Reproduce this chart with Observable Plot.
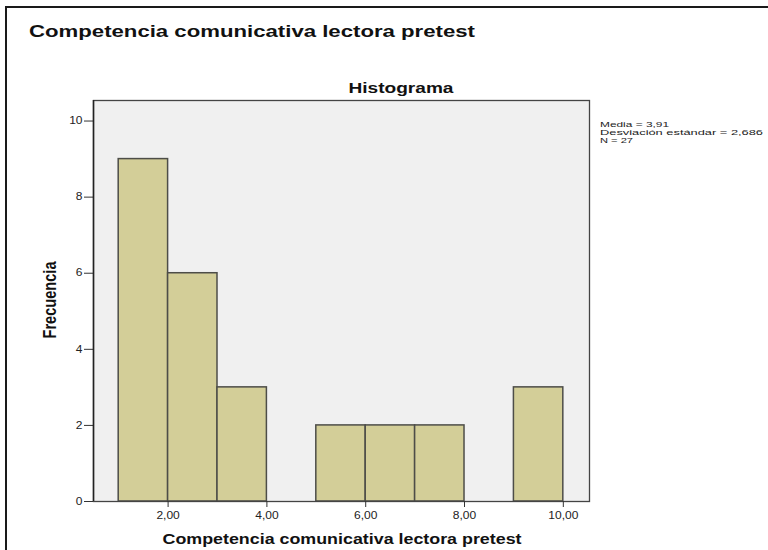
<!DOCTYPE html>
<html>
<head>
<meta charset="utf-8">
<script src="https://cdn.jsdelivr.net/npm/d3@7"></script>
<script src="https://cdn.jsdelivr.net/npm/@observablehq/plot@0.6"></script>
<style>
  html, body { margin: 0; padding: 0; background: #fff; }
  #chart { width: 768px; height: 550px; overflow: hidden; }
  svg { display: block; font-family: "Liberation Sans", Arial, sans-serif; }
</style>
</head>
<body>
<div id="chart"></div>
<script>
// Data
const binStart = [1, 2, 3, 5, 6, 7, 9];
const binEnd   = [2, 3, 4, 6, 7, 8, 10];
const counts   = [9, 6, 3, 2, 2, 2, 3];
const xTicks = [2, 4, 6, 8, 10];
const yTicks = [0, 2, 4, 6, 8, 10];
const chartTitle = "Competencia comunicativa lectora pretest";
const plotTitle = "Histograma";
const xLabel = "Competencia comunicativa lectora pretest";
const yLabel = "Frecuencia";
const statsLines = ["Media = 3,91", "Desviación estándar = 2,686", "N = 27"];

const bins = binStart.map((s, i) => ({start: s, end: binEnd[i], count: counts[i]}));

const plot = Plot.plot({
  width: 768,
  height: 550,
  marginLeft: 93,
  marginRight: 179,
  marginTop: 100,
  marginBottom: 49,
  style: {fontFamily: '"Liberation Sans", Arial, sans-serif', background: "transparent"},
  x: {domain: [0.49, 10.53]},
  y: {domain: [0, 10.54]},
  marks: [
    Plot.frame({fill: "#f0f0f0", stroke: "none"}),
    Plot.rectY(bins, {x1: "start", x2: "end", y: "count", fill: "#d3ce98", stroke: "#4d4d48", strokeWidth: 1.5, inset: 0}),
    Plot.frame({stroke: "#444", strokeWidth: 1.3}),
    Plot.axisX({ticks: xTicks, tickFormat: d => d.toFixed(2).replace(".", ","), tickSize: 6, tickPadding: 4, fontSize: 10, label: null, stroke: "#333", fill: "#222"}),
    Plot.axisY({ticks: yTicks, tickFormat: d => String(d), tickSize: 9, tickPadding: 2, fontSize: 10, label: null, stroke: "#333", fill: "#222"}),
    Plot.ruleX([0.49], {stroke: "#222", strokeWidth: 1.5})
  ]
});

document.getElementById("chart").appendChild(plot);
const svg = d3.select(plot);

// The reference is horizontally stretched: widen tick labels a little
svg.selectAll('g[aria-label="x-axis tick label"] text, g[aria-label="y-axis tick label"] text').each(function() {
  const len = this.getComputedTextLength();
  d3.select(this).attr("textLength", len * 1.2).attr("lengthAdjust", "spacingAndGlyphs");
});

// outer screenshot border (left and top)
svg.append("path")
  .attr("d", "M6,550V7H768")
  .attr("fill", "none")
  .attr("stroke", "#1a1a1a")
  .attr("stroke-width", 2);

function stretchedText(x, y, str, size, width, anchor) {
  return svg.append("text")
    .attr("x", x).attr("y", y)
    .attr("text-anchor", anchor)
    .attr("font-size", size).attr("font-weight", "bold")
    .attr("fill", "#111")
    .attr("textLength", width).attr("lengthAdjust", "spacingAndGlyphs")
    .text(str);
}

stretchedText(29, 37, chartTitle, 17, 446, "start");
stretchedText(401, 93, plotTitle, 15, 105, "middle");
stretchedText(342, 544, xLabel, 15, 359, "middle");

svg.append("text")
  .attr("transform", "translate(56,300) scale(1.27,1) rotate(-90)")
  .attr("text-anchor", "middle")
  .attr("font-size", 14).attr("font-weight", "bold")
  .attr("fill", "#111")
  .attr("textLength", 77).attr("lengthAdjust", "spacingAndGlyphs")
  .text(yLabel);

const statWidths = [69, 163, 33];
statsLines.forEach((s, i) => {
  svg.append("text")
    .attr("x", 600).attr("y", 127 + i * 8)
    .attr("text-anchor", "start")
    .attr("font-size", 8)
    .attr("fill", "#222")
    .attr("textLength", statWidths[i]).attr("lengthAdjust", "spacingAndGlyphs")
    .text(s);
});
</script>
</body>
</html>
